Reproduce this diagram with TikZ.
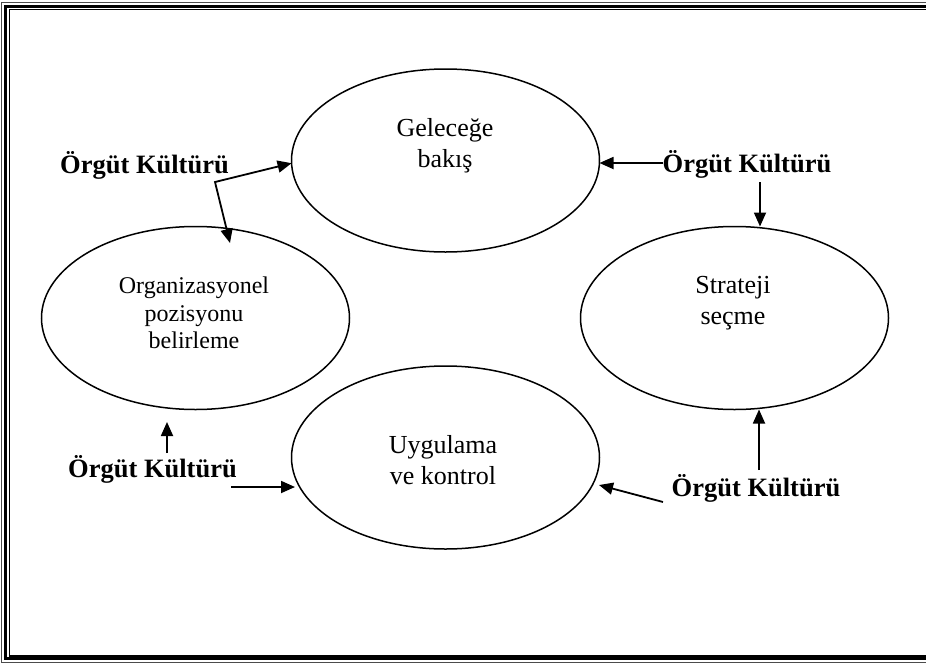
\documentclass[tikz,border=0pt]{standalone}
\usepackage{fontspec}
\setmainfont{Liberation Serif}
\usetikzlibrary{arrows.meta,shapes.geometric}
\begin{document}
\begin{tikzpicture}[x=1pt,y=-1pt,
  oval/.style={draw,ellipse,line width=1.5pt,minimum width=308pt,minimum height=183pt,inner sep=0pt,outer sep=0pt},
  otext/.style={align=center,inner sep=0pt,font=\fontsize{26}{31}\selectfont},
  lbl/.style={font=\fontsize{26.5}{30}\selectfont\bfseries,anchor=base,inner sep=0pt},
  arr/.style={line width=1.8pt,-{Triangle[length=14pt,width=12pt]}},
  darr/.style={line width=1.8pt,{Triangle[length=14pt,width=12pt]}-{Triangle[length=14pt,width=12pt]}}]
\useasboundingbox (0,0) rectangle (926,664);
\begin{scope}
\clip (0,0) rectangle (926,664);
\draw[line width=1.2pt,black!70] (1.5,2.5) rectangle (940,662.5);
\draw[line width=3pt] (5.5,6.5) rectangle (940,658.5);
\draw[line width=1.2pt] (9.5,9.5) rectangle (940,656);
\end{scope}
% ellipses
\node[oval] (gel) at (445.5,160.5) {};
\node[oval] (org) at (195.5,318) {};
\node[oval] (str) at (734.5,318) {};
\node[oval] (uyg) at (445.5,457.5) {};
% ellipse texts
\node[otext] (geltx) at (445,146) {Geleceğe\\bakış};
\node[otext,font=\fontsize{24}{27.5}\selectfont] (orgtx) at (194,313) {Organizasyonel\\pozisyonu\\belirleme};
\node[otext] (strtx) at (733,303) {Strateji\\seçme};
\node[otext] (uygtx) at (443,460) {Uygulama\\ve kontrol};
% labels
\node[lbl] (k1) at (144.5,173) {Örgüt Kültürü};
\node[lbl] (k2) at (747,172) {Örgüt Kültürü};
\node[lbl] (k3) at (152.5,477) {Örgüt Kültürü};
\node[lbl] (k4) at (756,496) {Örgüt Kültürü};
% connector ends
\coordinate (c1) at (215,182);
\coordinate (t1) at (230,243);
\coordinate (c2) at (663,163);
\coordinate (c3) at (760,182);
\coordinate (c4) at (167,453);
\coordinate (t4) at (167,422);
\coordinate (c5) at (231,487);
\coordinate (t5) at (295,487);
\coordinate (c6) at (759,470);
\coordinate (c7) at (663,502);
\coordinate (t7) at (599,485);
% connectors
\draw[darr] (t1) -- (c1) -- (gel.181.7);
\draw[arr] (c2) -- (c2 -| gel.east);
\draw[arr] (c3) -- (c3 |- str.north);
\draw[arr] (c4) -- (t4);
\draw[arr] (c5) -- (t5);
\draw[arr] (c6) -- (c6 |- str.south);
\draw[arr] (c7) -- (t7);
\end{tikzpicture}
\end{document}
